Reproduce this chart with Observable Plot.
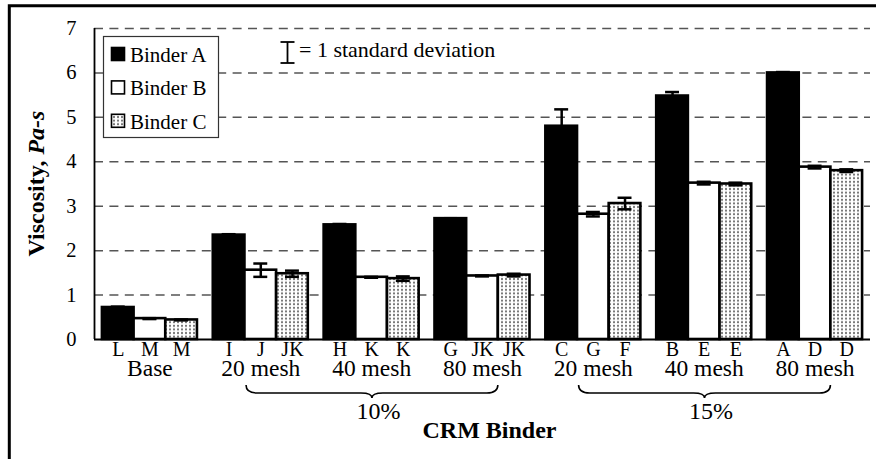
<!DOCTYPE html>
<html>
<head>
<meta charset="utf-8">
<script src="https://cdn.jsdelivr.net/npm/d3@7"></script>
<script src="https://cdn.jsdelivr.net/npm/@observablehq/plot@0.6"></script>
<style>
  html, body { margin: 0; padding: 0; background: #fff; }
  svg { display: block; }
</style>
</head>
<body>
<div id="chart"></div>
<script>
// ---- data ----
const groups = ["Base", "20 mesh", "40 mesh", "80 mesh", "20 mesh", "40 mesh", "80 mesh"];
const binders = ["Binder A", "Binder B", "Binder C"];
const viscA = [0.72, 2.35, 2.58, 2.72, 4.80, 5.48, 6.00];
const viscB = [0.47, 1.56, 1.40, 1.43, 2.82, 3.52, 3.88];
const viscC = [0.44, 1.48, 1.37, 1.45, 3.06, 3.50, 3.80];
const sdA = [0.02, 0.02, 0.02, 0.01, 0.38, 0.09, 0.02];
const sdB = [0.01, 0.15, 0.01, 0.01, 0.05, 0.03, 0.03];
const sdC = [0.01, 0.07, 0.05, 0.03, 0.13, 0.03, 0.03];
const lettersA = ["L", "I", "H", "G", "C", "B", "A"];
const lettersB = ["M", "J", "K", "JK", "G", "E", "D"];
const lettersC = ["M", "JK", "K", "JK", "F", "E", "D"];
const braces = [{label: "10%", first: 1, last: 3}, {label: "15%", first: 4, last: 6}];
const yTicks = [0, 1, 2, 3, 4, 5, 6, 7];
const sdNote = "= 1 standard deviation";
const xTitle = "CRM Binder";

// ---- build table ----
const slot = 3.5; // group step in bar widths (3 bars + half-bar gap)
const values = [viscA, viscB, viscC];
const sds = [sdA, sdB, sdC];
const letters = [lettersA, lettersB, lettersC];
const rows = [];
groups.forEach((grp, g) => {
  binders.forEach((b, i) => {
    const x1 = g * slot + i;
    rows.push({g, group: grp, binder: b, value: values[i][g], sd: sds[i][g],
      letter: letters[i][g], x1, x2: x1 + 1, xc: x1 + 0.5});
  });
});
const groupRows = groups.map((grp, g) => ({group: grp, xc: g * slot + 1.5}));
const braceRows = braces.map(b => ({label: b.label,
  from: b.first * slot + 1.05, to: b.last * slot + 2, mid: (b.first * slot + 1.05 + b.last * slot + 2) / 2}));

const W = 876, H = 459;
const FONT = "'Liberation Serif', 'Times New Roman', serif";
const xDomain = [-0.25, groups.length * slot - 0.25];

const plot = Plot.plot({
  width: W, height: H,
  marginLeft: 94, marginRight: 6, marginTop: 28, marginBottom: 120,
  style: {fontFamily: FONT, fontSize: "20px", color: "#000", background: "#fff"},
  x: {type: "linear", domain: xDomain, axis: null},
  y: {domain: [0, 7], axis: null},
  color: {domain: binders, range: ["#000", "#fff", "url(#dots)"]},
  marks: [
    Plot.ruleY(yTicks.slice(1), {stroke: "#555", strokeWidth: 1.5, strokeDasharray: "9,6.4"}),
    Plot.rectY(rows, {x1: "x1", x2: "x2", y: "value", fill: "binder", stroke: "#000", strokeWidth: 2.6}),
    Plot.ruleX(rows, {x: "xc", y1: d => d.value - d.sd, y2: d => d.value + d.sd, stroke: "#000", strokeWidth: 2.5}),
    Plot.ruleY(rows, {y: d => d.value + d.sd, x1: d => d.xc - 0.22, x2: d => d.xc + 0.22, stroke: "#000", strokeWidth: 2.5}),
    Plot.ruleY(rows, {y: d => d.value - d.sd, x1: d => d.xc - 0.22, x2: d => d.xc + 0.22, stroke: "#000", strokeWidth: 2.5}),
    Plot.ruleX([xDomain[0]], {stroke: "#000", strokeWidth: 1.8}),
    Plot.ruleY([0], {stroke: "#000", strokeWidth: 2}),
    Plot.axisY({ticks: yTicks, tickSize: 0, tickPadding: 18, fontSize: 20.5, label: null, tickFormat: d => String(d)}),
    Plot.text(rows, {x: "xc", text: "letter", frameAnchor: "bottom", dy: 16.6, fontSize: 20}),
    Plot.text(groupRows, {x: "xc", text: "group", frameAnchor: "bottom", dy: 36.5, fontSize: 23.5}),
    Plot.text(braceRows, {x: "mid", text: "label", frameAnchor: "bottom", dy: 79.3, dx: 6, fontSize: 24}),
    Plot.text([xTitle], {frameAnchor: "bottom", dy: 98.3, dx: 7, fontSize: 24, fontWeight: "bold"})
  ]
});

document.getElementById("chart").appendChild(plot);

const svg = d3.select(plot);
svg.attr("font-family", FONT).style("font-family", FONT);
const xs = plot.scale("x");
const ys = plot.scale("y");

// dotted pattern for Binder C
const defs = svg.insert("defs", ":first-child");
const pat = defs.append("pattern").attr("id", "dots").attr("patternUnits", "userSpaceOnUse")
  .attr("width", 4).attr("height", 3.6);
pat.append("rect").attr("width", 4).attr("height", 3.6).attr("fill", "#fff");
pat.append("rect").attr("x", 1).attr("y", 0.8).attr("width", 2).attr("height", 2).attr("fill", "#7a7a7a");

// braces
const bx = v => xs.apply(v);
const by0 = 385, by1 = 393, by2 = 398, r = 11;
braceRows.forEach(b => {
  const a = bx(b.from), c = bx(b.to), m = bx(b.mid);
  const p = `M${a},${by0} Q${a},${by1} ${a + r},${by1} L${m - r},${by1} Q${m},${by1} ${m},${by2} Q${m},${by1} ${m + r},${by1} L${c - r},${by1} Q${c},${by1} ${c},${by0}`;
  svg.append("path").attr("d", p).attr("fill", "none").attr("stroke", "#000").attr("stroke-width", 1.6);
});

// y-axis title with mixed styles
const yMid = (ys.apply(0) + ys.apply(7)) / 2;
const yt = svg.append("text").attr("transform", `translate(36,${yMid}) rotate(-90)`)
  .attr("text-anchor", "middle").attr("dy", "0.35em")
  .attr("font-size", 24).attr("font-weight", "bold").attr("fill", "#000");
yt.append("tspan").text("Viscosity, ");
yt.append("tspan").attr("font-style", "italic").text("Pa-s");

// legend
const lg = svg.append("g");
lg.append("rect").attr("x", 103.5).attr("y", 36.5).attr("width", 115).attr("height", 101)
  .attr("fill", "#fff").attr("stroke", "#333").attr("stroke-width", 1.2);
const swFill = ["#000", "#fff", "url(#dots)"];
binders.forEach((b, i) => {
  const base = 61.7 + i * 33.4;
  lg.append("rect").attr("x", 111.5).attr("y", base - 14.2).attr("width", 13).attr("height", 13)
    .attr("fill", swFill[i]).attr("stroke", "#000").attr("stroke-width", 1.6);
  lg.append("text").attr("x", 130).attr("y", base).attr("text-anchor", "start")
    .attr("font-size", 21).attr("fill", "#000").text(b);
});

// std-dev note
const sg = svg.append("g").attr("stroke", "#000").attr("stroke-width", 1.8);
sg.append("line").attr("x1", 287.5).attr("x2", 287.5).attr("y1", 42).attr("y2", 63);
sg.append("line").attr("x1", 280.5).attr("x2", 294.5).attr("y1", 42).attr("y2", 42);
sg.append("line").attr("x1", 280.5).attr("x2", 294.5).attr("y1", 63).attr("y2", 63);
svg.append("text").attr("x", 299).attr("y", 57).attr("text-anchor", "start")
  .attr("font-size", 22).attr("fill", "#000").text(sdNote);

// outer border (top & left)
svg.append("path").attr("d", `M9.3,${H} L9.3,5.7 L${W},5.7`).attr("fill", "none")
  .attr("stroke", "#000").attr("stroke-width", 3);
</script>
</body>
</html>
